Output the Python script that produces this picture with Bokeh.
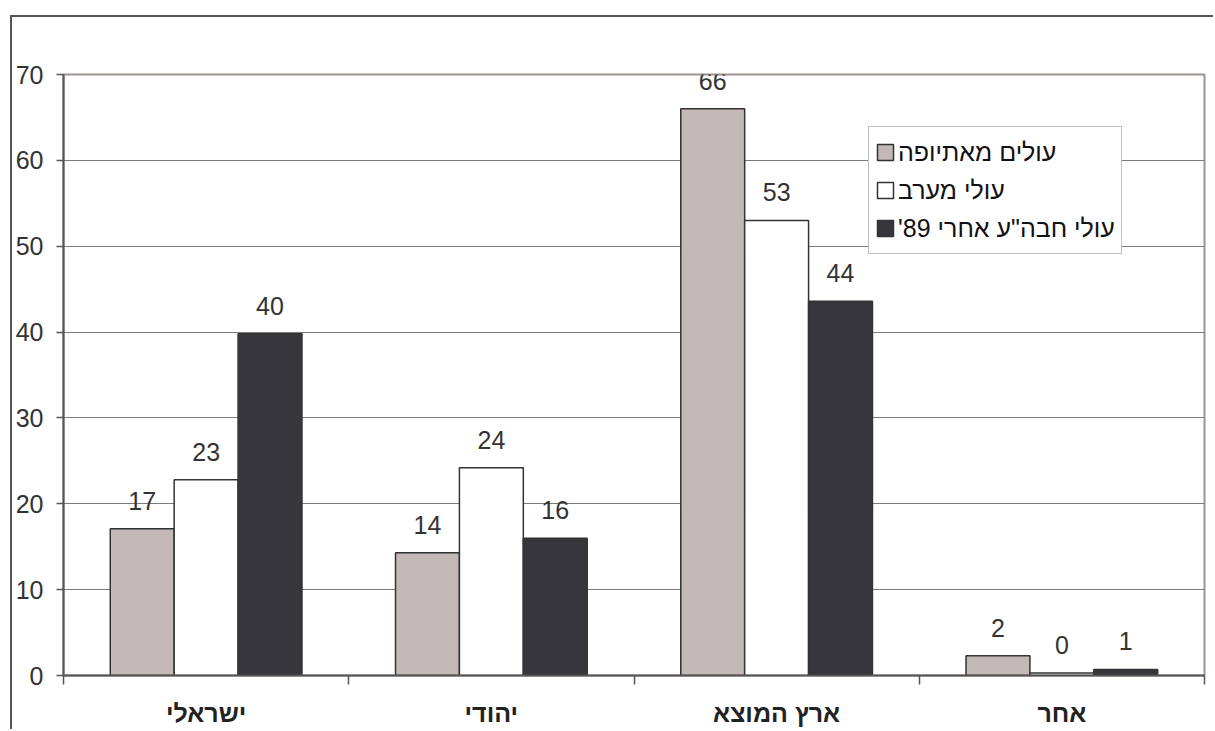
from bokeh.plotting import figure
from bokeh.models import FixedTicker, Legend, LegendItem
from bokeh.embed import file_html
from bokeh.resources import INLINE
from bokeh.core.properties import value

# ---- data ----
categories = ["ישראלי", "יהודי", "ארץ המוצא", "אחר"]
series_names = ["עולים מאתיופה", "עולי מערב", "עולי חבה\"ע אחרי 89'\u200f"]
ethiopia = [17.1, 14.3, 66.0, 2.3]
west = [22.8, 24.2, 53.0, 0.3]
fsu = [39.8, 16.0, 43.6, 0.7]
y_ticks = [0, 10, 20, 30, 40, 50, 60, 70]

series = [ethiopia, west, fsu]
colors = ["#c2b9b6", "#ffffff", "#37363b"]
offsets = [-0.224, 0.0, 0.224]
bar_w = 0.224
FONT = "Liberation Sans"

p = figure(width=1203, height=714, x_range=(0, 4), y_range=(0, 70),
           output_backend="svg", toolbar_location=None,
           min_border_left=50, min_border_right=11,
           min_border_top=57, min_border_bottom=56)
p.margin = (15, 0, 0, 10)
p.styles = {"border-top": "2px solid #555555", "border-left": "2px solid #555555"}
p.background_fill_color = "white"
p.border_fill_color = "white"
p.outline_line_color = "#9e9390"
p.outline_line_width = 2

# y axis
ya = p.yaxis[0]
ya.ticker = FixedTicker(ticks=y_ticks)
ya.major_tick_out = 7
ya.major_tick_in = 0
ya.minor_tick_line_color = None
ya.axis_line_color = "#555555"
ya.axis_line_width = 2
ya.major_tick_line_color = "#555555"
ya.major_tick_line_width = 1.5
ya.major_label_standoff = 13
ya.major_label_text_font = FONT
ya.major_label_text_font_size = "25px"
ya.major_label_text_color = "#333333"

# x axis: category labels at centres, ticks at boundaries
xa = p.xaxis[0]
centers = [i + 0.5 for i in range(len(categories))]
bounds = [float(i) for i in range(len(categories) + 1)]
xa.ticker = FixedTicker(ticks=centers, minor_ticks=bounds)
xa.major_label_overrides = {c: lab for c, lab in zip(centers, categories)}
xa.major_tick_line_color = None
xa.major_tick_out = 8
xa.major_tick_in = 0
xa.minor_tick_out = 9
xa.minor_tick_in = 0
xa.minor_tick_line_color = "#555555"
xa.minor_tick_line_width = 1.5
xa.axis_line_color = "#555555"
xa.axis_line_width = 2
xa.major_label_standoff = 14
xa.major_label_text_font = FONT
xa.major_label_text_font_style = "bold"
xa.major_label_text_font_size = "25px"
xa.major_label_text_color = "#222222"

p.xgrid.visible = False
p.ygrid.ticker = FixedTicker(ticks=y_ticks)
p.ygrid.grid_line_color = "#7a7a7a"
p.ygrid.grid_line_width = 1

renderers = []
for vals, col, off in zip(series, colors, offsets):
    xs = [i + 0.5 + off for i in range(len(categories))]
    r = p.vbar(x=xs, top=vals, width=bar_w, bottom=0,
               fill_color=col, line_color="#333333", line_width=1.5)
    renderers.append(r)
    p.text(x=xs, y=vals, text=[str(int(round(v))) for v in vals],
           text_align="center", text_baseline="alphabetic", y_offset=-28,
           text_font=value(FONT), text_font_size="25px", text_color="#333333")

legend = Legend(items=[LegendItem(label=n, renderers=[r]) for n, r in zip(series_names, renderers)],
                location=(805, 421), orientation="vertical")
legend.margin = 0
legend.padding = 6
legend.spacing = 0
legend.label_height = 38
legend.glyph_height = 20
legend.glyph_width = 20
legend.label_standoff = 3
legend.label_text_font = FONT
legend.label_text_font_size = "25px"
legend.label_text_color = "#111111"
legend.border_line_color = "#808080"
legend.border_line_width = 1
legend.background_fill_color = "white"
legend.background_fill_alpha = 1
p.add_layout(legend)

open("out.html", "w").write(file_html(p, INLINE))
